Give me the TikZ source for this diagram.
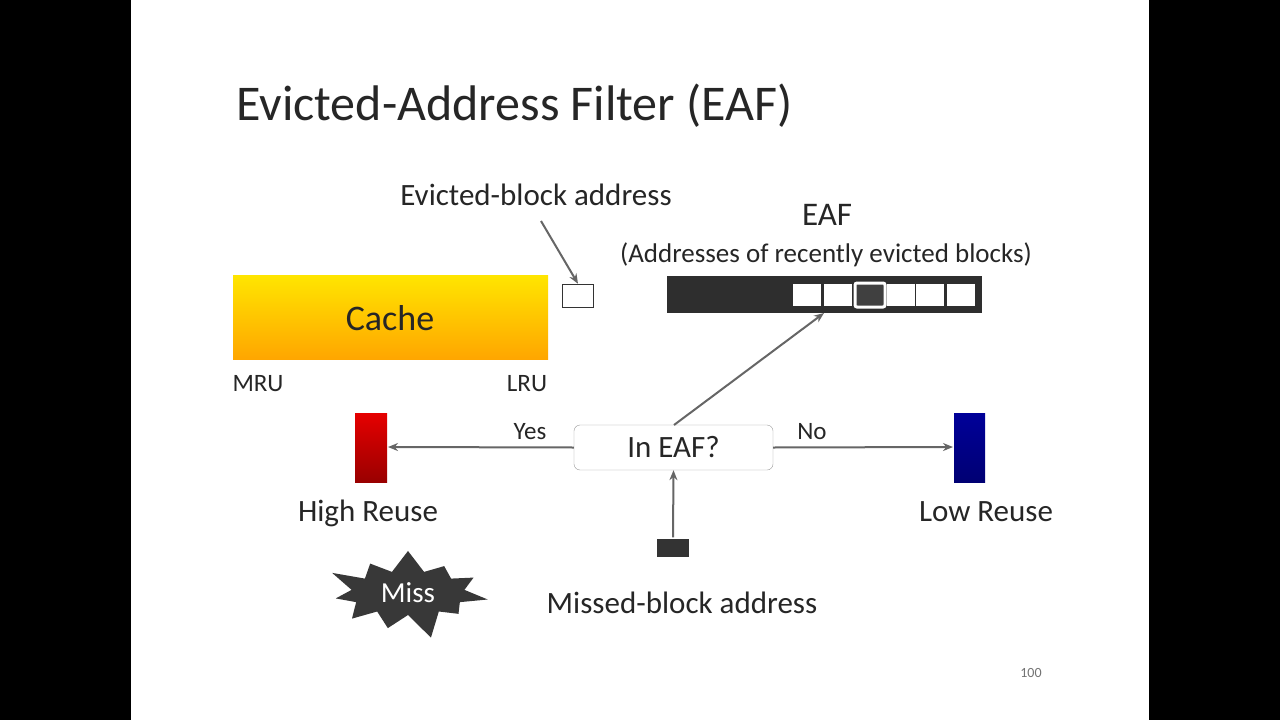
\documentclass[tikz,border=0pt]{standalone}
\usepackage{fontspec}
\setmainfont{Carlito}
\usetikzlibrary{shapes.symbols,arrows.meta}
\begin{document}
\begin{tikzpicture}[x=1pt,y=-1pt,
  txt/.style={inner sep=0pt,text=black!85},
  arr/.style={draw=black!60,line width=2pt,-{Stealth[length=10pt,width=8pt]}},
  cell/.style={draw=black!80,fill=white,minimum width=27pt,minimum height=22pt,inner sep=0pt}]
\useasboundingbox (0,0) rectangle (1280,720);
\fill[black] (0,0) rectangle (1280,720);
\fill[white] (131,0) rectangle (1149,720);
\node[txt,anchor=base west,font=\fontsize{50}{50}\selectfont] (title) at (236,120) {Evicted-Address Filter (EAF)};
\node[txt,font=\fontsize{31}{31}\selectfont,anchor=base] (eba) at (536,205) {Evicted-block address};
\node[draw=black!80,line width=1.5pt,fill=white,minimum width=31pt,minimum height=23pt,inner sep=0pt] (eb) at (578,296) {};
\draw[arr] (541,221) -- (eb.north);
\shade[top color=yellow!80!orange,bottom color=orange!70!yellow] (233,275) rectangle (548,359);
\node[txt,font=\fontsize{36}{36}\selectfont] (cache) at (390,318) {Cache};
\node[txt,font=\fontsize{25}{25}\selectfont,anchor=base] (mru) at (258,391) {MRU};
\node[txt,font=\fontsize{25}{25}\selectfont,anchor=base] (lru) at (527,391) {LRU};
\node[txt,font=\fontsize{33}{33}\selectfont,anchor=base] (eaf) at (827,225) {EAF};
\node[txt,font=\fontsize{27}{27}\selectfont,anchor=base] (addr) at (826,262) {(Addresses of recently evicted blocks)};
\node[fill=black!82,minimum width=315pt,minimum height=37pt,inner sep=0pt] (bar) at (824.5,294.5) {};
\node[fill=white,minimum width=28pt,minimum height=22pt,inner sep=0pt] (c1) at (807,295) {};
\node[fill=white,minimum width=28pt,minimum height=22pt,inner sep=0pt] (c2) at (838,295) {};
\node[fill=black!75,draw=white,line width=3pt,rounded corners=2pt,minimum width=30pt,minimum height=24pt,inner sep=0pt] (c3) at (870,295) {};
\node[fill=white,minimum width=28pt,minimum height=22pt,inner sep=0pt] (c4) at (901,295) {};
\node[fill=white,minimum width=28pt,minimum height=22pt,inner sep=0pt] (c5) at (930,295) {};
\node[fill=white,minimum width=28pt,minimum height=22pt,inner sep=0pt] (c6) at (961,295) {};
\node[draw=black!40,fill=white,rounded corners=6pt,minimum width=199pt,minimum height=45pt,inner sep=0pt,font=\fontsize{31}{31}\selectfont,text=black!85] (q) at (673.5,447.5) {In EAF?};
\coordinate (qt) at (674,425);
\coordinate (bt) at (824,313);
\draw[arr] (qt) -- (bt);
\shade[top color=red!90!black,bottom color=red!60!black] (355,413) rectangle (387,482);
\coordinate (hr) at (388,447);
\shade[top color=blue!60!black,bottom color=blue!45!black] (954,413) rectangle (985,482);
\coordinate (lr) at (953,447);
\draw[arr] (q.west) -- (hr);
\draw[arr] (q.east) -- (lr);
\node[txt,font=\fontsize{25}{25}\selectfont,anchor=base] (yes) at (530,439) {Yes};
\node[txt,font=\fontsize{25}{25}\selectfont,anchor=base] (no) at (812,439) {No};
\node[txt,font=\fontsize{31}{31}\selectfont,anchor=base] (high) at (368,521) {High Reuse};
\node[txt,font=\fontsize{31}{31}\selectfont,anchor=base] (low) at (986,521) {Low Reuse};
\node[fill=black!80,draw=white,line width=1.5pt,minimum width=34pt,minimum height=20pt,inner sep=0pt] (mb) at (673,548) {};
\draw[arr] (mb.north) -- (q.south);
\node[txt,font=\fontsize{31}{31}\selectfont,anchor=base] (mba) at (682,613) {Missed-block address};
\node[starburst,starburst points=11,starburst point height=28pt,fill=black!78,minimum width=170pt,minimum height=100pt,inner sep=0pt,font=\fontsize{29}{29}\selectfont,text=white] (miss) at (408,593) {Miss};
\node[font=\fontsize{14}{14}\selectfont,text=black!55] (pg) at (1031,673) {100};
\end{tikzpicture}
\end{document}
